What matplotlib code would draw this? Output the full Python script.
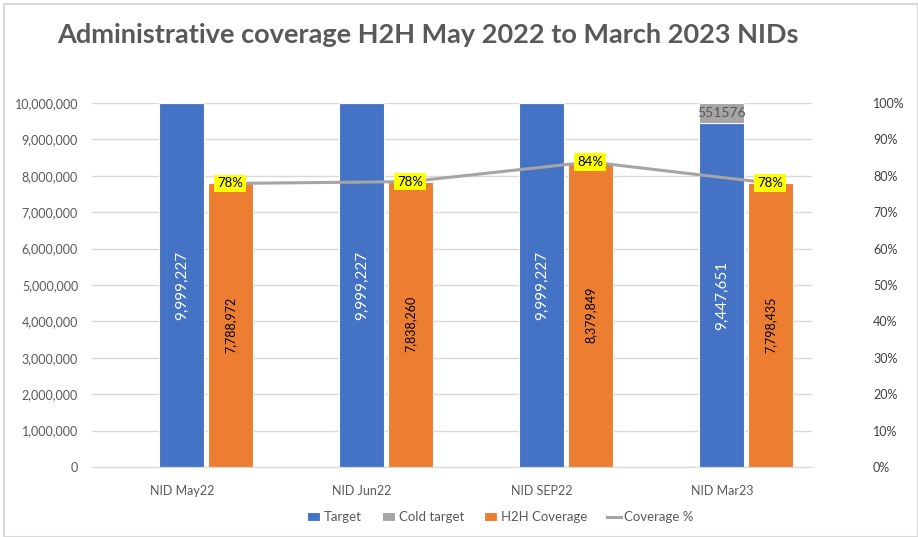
import numpy as np
import matplotlib.pyplot as plt
from matplotlib.patches import Rectangle
from matplotlib.ticker import FuncFormatter, MultipleLocator

plt.rcParams["font.family"] = ["Lato", "DejaVu Sans"]

categories = ["NID May22", "NID Jun22", "NID SEP22", "NID Mar23"]
target = [9999227, 9999227, 9999227, 9447651]
cold_target = [0, 0, 0, 551576]
h2h_coverage = [7788972, 7838260, 8379849, 7798435]
coverage_pct = [0.779, 0.784, 0.838, 0.780]

BLUE = "#4472c4"
GRAY = "#a5a5a5"
ORANGE = "#ed7d31"
TXT = "#595959"

fig = plt.figure(figsize=(9.18, 5.37), dpi=100)
fig.patches.append(Rectangle((0.004, 0.0), 0.996, 0.993, transform=fig.transFigure,
                             fill=False, edgecolor="#d9d9d9", linewidth=1.5))
ax = fig.add_axes([0.1002, 0.1304, 0.7843, 0.6778])
ax2 = ax.twinx()

x = np.arange(len(categories))
w = 0.25
off = 0.267

ax.bar(x, target, w, color=BLUE, edgecolor="white", linewidth=0.8, label="Target", zorder=2)
ax.bar(x, cold_target, w, bottom=target, color=GRAY, edgecolor="white", linewidth=0.8,
       label="Cold target", zorder=2)
ax.bar(x + off, h2h_coverage, w, color=ORANGE, edgecolor="white", linewidth=0.8,
       label="H2H Coverage", zorder=2)

for xi, t, c, h in zip(x, target, cold_target, h2h_coverage):
    ax.text(xi, t / 2, f"{t:,}", rotation=90, ha="center", va="center",
            color="white", fontsize=11, zorder=3)
    ax.text(xi + off, h / 2, f"{h:,}", rotation=90, ha="center", va="center",
            color="black", fontsize=9, zorder=3)
    if c > 0:
        ax.text(xi, t + c / 2, f"{c}", ha="center", va="center", color=TXT,
                fontsize=10, zorder=3)

ax2.plot(x + off, coverage_pct, color=GRAY, linewidth=2.2, label="Coverage %", zorder=4)
for xi, p in zip(x, coverage_pct):
    ax2.text(xi + off, p, f"{p:.0%}", ha="center", va="center", fontsize=9.5,
             color="black", zorder=5,
             bbox=dict(boxstyle="square,pad=0.2", facecolor="#ffff00", edgecolor="none"))

ax.set_xlim(-0.5, 3.5)
ax.set_ylim(0, 10000000)
ax2.set_ylim(0, 1.0)
ax.yaxis.set_major_locator(MultipleLocator(1000000))
ax2.yaxis.set_major_locator(MultipleLocator(0.1))
ax.yaxis.set_major_formatter(FuncFormatter(lambda v, p: f"{int(v):,}"))
ax2.yaxis.set_major_formatter(FuncFormatter(lambda v, p: f"{v:.0%}"))
ax.set_xticks(x)
ax.set_xticklabels(categories)

ax.grid(axis="y", color="#d9d9d9", linewidth=1, zorder=0)
ax.set_axisbelow(True)
for a in (ax, ax2):
    for s in ("top", "left", "right", "bottom"):
        a.spines[s].set_visible(False)
ax.spines["bottom"].set_visible(True)
ax.spines["bottom"].set_color("#d9d9d9")
ax.tick_params(axis="both", length=0, colors=TXT, labelsize=9)
ax.tick_params(axis="y", pad=10)
ax.tick_params(axis="x", pad=13)
ax2.tick_params(axis="y", length=0, colors="#404040", labelsize=9, pad=44)

fig.text(0.466, 0.935, "Administrative coverage H2H May 2022 to March 2023 NIDs",
         ha="center", va="center", fontsize=19.5, fontweight="bold", color=TXT)

h1, l1 = ax.get_legend_handles_labels()
h2, l2 = ax2.get_legend_handles_labels()
fig.legend(h1 + h2, l1 + l2, loc="center", bbox_to_anchor=(0.545, 0.037), ncol=4,
           frameon=False, fontsize=9.5, handlelength=1.0, handleheight=0.7,
           columnspacing=1.5, handletextpad=0.3, labelcolor=TXT)

fig.savefig("out.png", dpi=100)
